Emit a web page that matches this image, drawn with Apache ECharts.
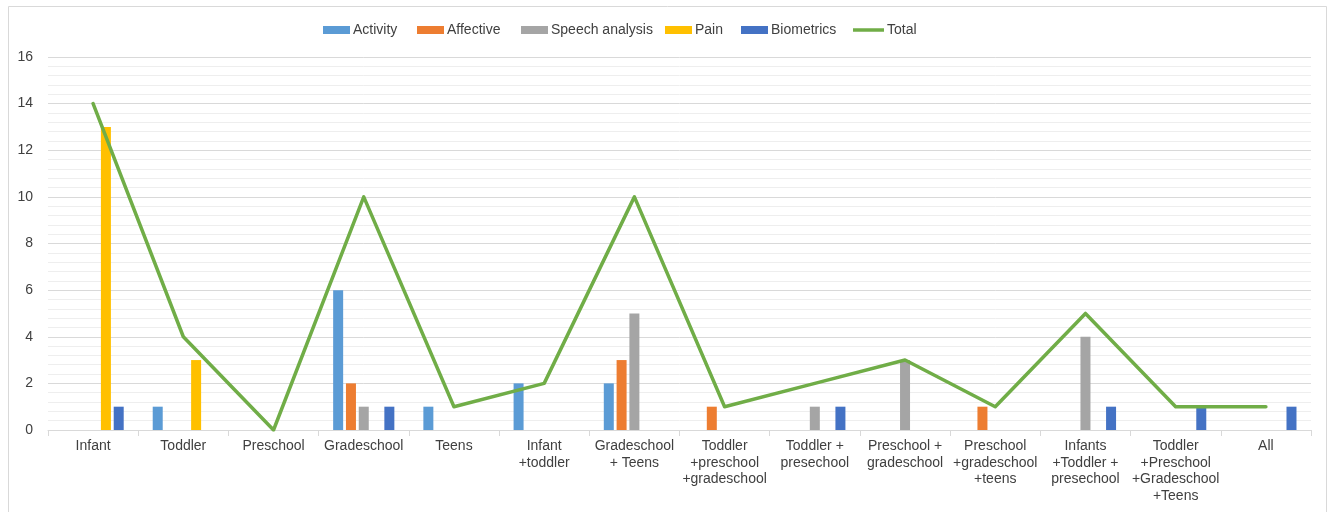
<!DOCTYPE html>
<html>
<head>
<meta charset="utf-8">
<script src="https://cdn.jsdelivr.net/npm/echarts@6/dist/echarts.min.js"></script>
<style>
  html, body { margin: 0; padding: 0; background: #ffffff; }
  #chart { width: 1332px; height: 512px; }
</style>
</head>
<body>
<div id="chart"></div>
<script>
// Age-group categories (line breaks follow the axis label wrapping)
const categories = [
  'Infant', 'Toddler', 'Preschool', 'Gradeschool', 'Teens',
  'Infant\n+toddler', 'Gradeschool\n+ Teens', 'Toddler\n+preschool\n+gradeschool',
  'Toddler +\npresechool', 'Preschool +\ngradeschool', 'Preschool\n+gradeschool\n+teens',
  'Infants\n+Toddler +\npresechool', 'Toddler\n+Preschool\n+Gradeschool\n+Teens', 'All'
];

const activity   = [0, 1, 0, 6, 1, 2, 2, 0, 0, 0, 0, 0, 0, 0];
const affective  = [0, 0, 0, 2, 0, 0, 3, 1, 0, 0, 1, 0, 0, 0];
const speech     = [0, 0, 0, 1, 0, 0, 5, 0, 1, 3, 0, 4, 0, 0];
const pain       = [13, 3, 0, 0, 0, 0, 0, 0, 0, 0, 0, 0, 0, 0];
const biometrics = [1, 0, 0, 1, 0, 0, 0, 0, 1, 0, 0, 1, 1, 1];
const total      = [14, 4, 0, 10, 1, 2, 10, 1, 2, 3, 1, 5, 1, 1];

const yTicks = { min: 0, max: 16, interval: 2 };

const FONT = '"Liberation Sans", Arial, sans-serif';
const TEXT_COLOR = '#404040';

const colors = {
  'Activity': '#5b9bd5',
  'Affective': '#ed7d31',
  'Speech analysis': '#a5a5a5',
  'Pain': '#ffc000',
  'Biometrics': '#4472c4',
  'Total': '#70ad47'
};

function barSeries(name, data) {
  return {
    name: name,
    type: 'bar',
    data: data,
    barWidth: 10,
    barGap: '28%',
    itemStyle: { color: colors[name] },
    emphasis: { disabled: true }
  };
}

// one legend entry per component so each key sits at its own x position
function legendItem(name, left, isLine) {
  return {
    top: 23,
    left: left,
    padding: 0,
    itemWidth: isLine ? 31 : 27,
    itemHeight: isLine ? 3.5 : 8,
    selectedMode: false,
    textStyle: { fontFamily: FONT, fontSize: 14, color: TEXT_COLOR, padding: [0, 0, 0, -2] },
    data: [{ name: name, icon: 'rect', itemStyle: { color: colors[name] } }]
  };
}

const chart = echarts.init(document.getElementById('chart'), null, { renderer: 'canvas' });

chart.setOption({
  animation: false,
  backgroundColor: '#ffffff',
  textStyle: { fontFamily: FONT },
  graphic: [{
    type: 'rect',
    shape: { x: 8.5, y: 6.5, width: 1318, height: 520 },
    style: { fill: 'none', stroke: '#d9d9d9', lineWidth: 1 },
    silent: true,
    z: -1
  }],
  legend: [
    legendItem('Activity', 323),
    legendItem('Affective', 417),
    legendItem('Speech analysis', 521),
    legendItem('Pain', 665),
    legendItem('Biometrics', 741),
    legendItem('Total', 853, true)
  ],
  grid: { left: 48, right: 21, top: 57, bottom: 82, containLabel: false },
  xAxis: {
    type: 'category',
    data: categories,
    boundaryGap: true,
    axisLine: { lineStyle: { color: '#d9d9d9', width: 1 } },
    axisTick: { show: true, length: 6, lineStyle: { color: '#d9d9d9' } },
    axisLabel: {
      interval: 0,
      margin: 8,
      fontFamily: FONT,
      fontSize: 14,
      color: TEXT_COLOR,
      lineHeight: 16.5
    },
    splitLine: { show: false }
  },
  yAxis: {
    type: 'value',
    min: yTicks.min,
    max: yTicks.max,
    interval: yTicks.interval,
    axisLine: { show: false },
    axisTick: { show: false },
    axisLabel: { fontFamily: FONT, fontSize: 14, color: TEXT_COLOR, margin: 15 },
    splitLine: { lineStyle: { color: '#d9d9d9', width: 1 } },
    minorTick: { show: false, splitNumber: 5 },
    minorSplitLine: { show: true, lineStyle: { color: '#eeeeee', width: 1 } }
  },
  series: [
    barSeries('Activity', activity),
    barSeries('Affective', affective),
    barSeries('Speech analysis', speech),
    barSeries('Pain', pain),
    barSeries('Biometrics', biometrics),
    {
      name: 'Total',
      type: 'line',
      data: total,
      symbol: 'none',
      lineStyle: { color: colors['Total'], width: 3.5, cap: 'round', join: 'round' },
      itemStyle: { color: colors['Total'] },
      emphasis: { disabled: true },
      z: 3
    }
  ]
});
</script>
</body>
</html>
